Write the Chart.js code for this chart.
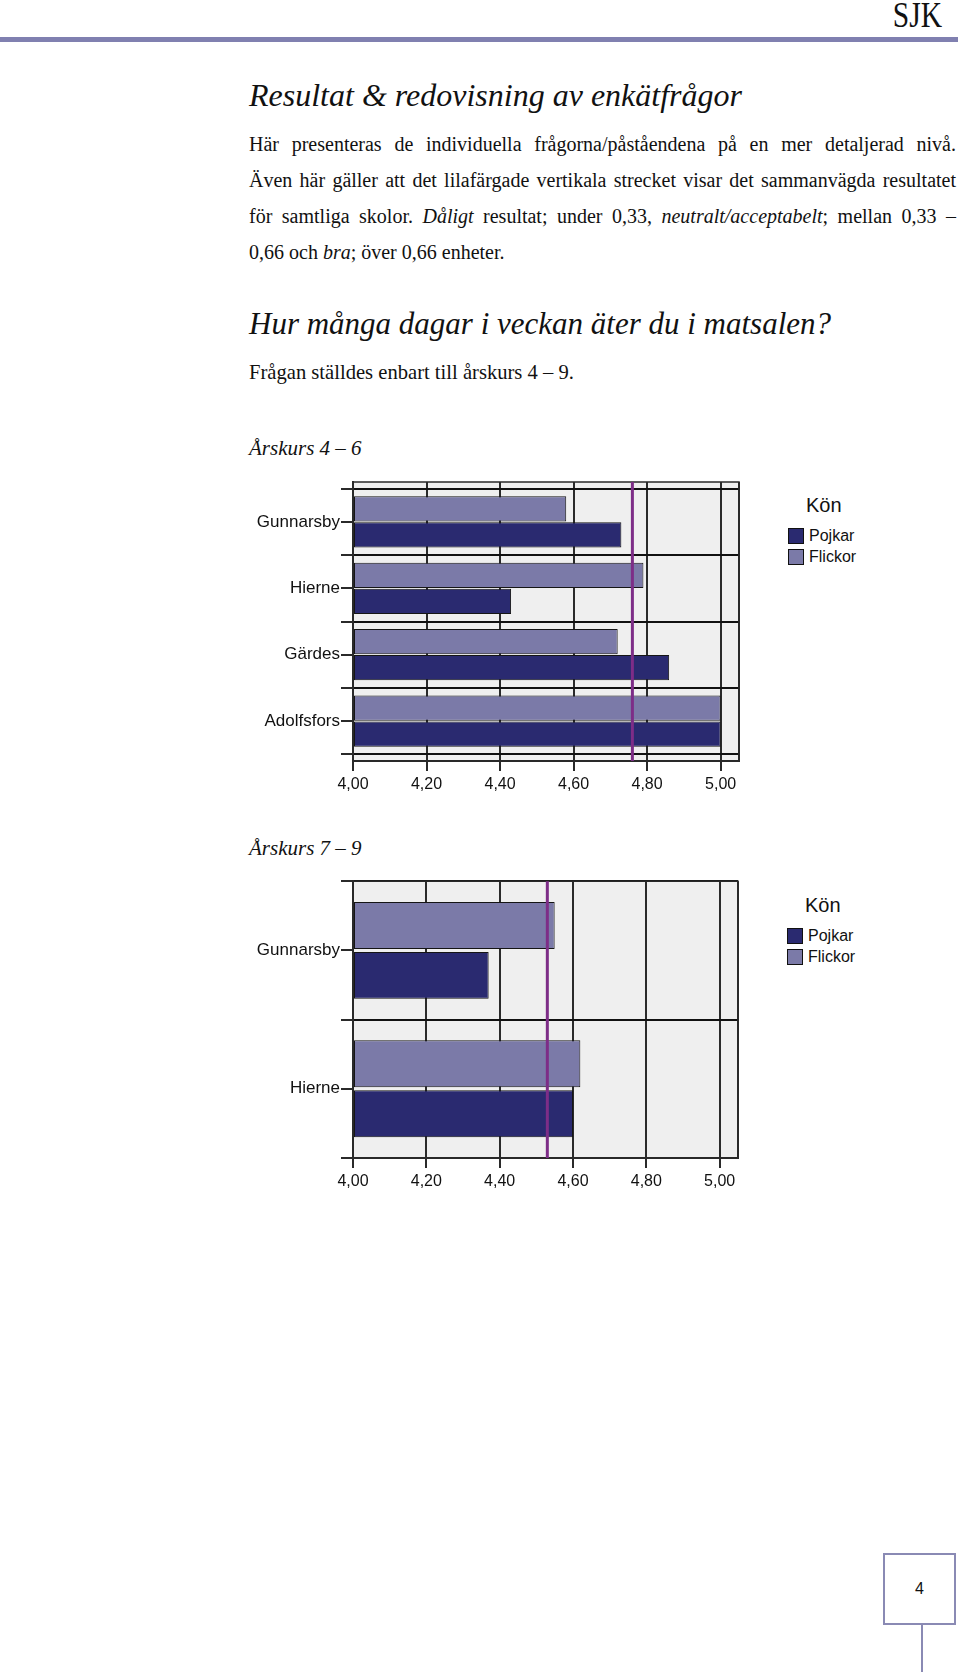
<!DOCTYPE html>
<html lang="sv">
<head>
<meta charset="utf-8">
<title>Hur många dagar i veckan äter du i matsalen?</title>
<script src="https://cdn.jsdelivr.net/npm/chart.js@4.4.1/dist/chart.umd.min.js"></script>
<style>
  html, body { margin: 0; padding: 0; background: #fff; }
  #page { position: relative; width: 960px; height: 1672px; overflow: hidden; color: #111;
          font-family: 'Liberation Serif', 'Times New Roman', serif; }
  .abs { position: absolute; line-height: 1; white-space: nowrap; }
  .sjk { right: 18px; top: -3px; font-size: 36px; transform: scaleX(0.82); transform-origin: right top; }
  .rule { position: absolute; left: 0; top: 37px; width: 958px; height: 5px; background: #8080b0; }
  .h1 { left: 249px; font-size: 32px; font-style: italic; }
  .h2 { left: 249px; font-size: 31px; font-style: italic; }
  .sub { left: 249px; font-size: 21px; font-style: italic; }
  .txt { left: 249px; font-size: 20px; }
  .just { position: absolute; left: 249px; width: 707px; font-size: 20px; line-height: 1;
          text-align: justify; text-align-last: justify; }
  canvas { position: absolute; }
  .legend { position: absolute; font-family: 'Liberation Sans', Arial, sans-serif; color: #111; }
  .legend .title { font-size: 20px; line-height: 20px; padding-left: 18px; margin-bottom: 10px; }
  .legend .row { display: flex; align-items: center; height: 21px; font-size: 16px; }
  .legend .box { width: 14px; height: 14px; border: 1px solid #111; margin-right: 5px; }
  .pagebox { position: absolute; left: 883px; top: 1553px; width: 69px; height: 68px;
             border: 2px solid #8a8ab4; font-family: 'Liberation Sans', Arial, sans-serif;
             font-size: 16px; line-height: 68px; text-align: center; }
  .pageline { position: absolute; left: 921px; top: 1625px; width: 2px; height: 50px; background: #8a8ab4; }
</style>
</head>
<body>
<div id="page">
  <div class="abs sjk">SJK</div>
  <div class="rule"></div>

  <div class="abs h1" style="top:79px">Resultat &amp; redovisning av enkätfrågor</div>

  <div class="just" style="top:134px">Här presenteras de individuella frågorna/påståendena på en mer detaljerad nivå.</div>
  <div class="just" style="top:170px">Även här gäller att det lilafärgade vertikala strecket visar det sammanvägda resultatet</div>
  <div class="just" style="top:206px">för samtliga skolor. <i>Dåligt</i> resultat; under 0,33, <i>neutralt/acceptabelt</i>; mellan 0,33 –</div>
  <div class="abs txt" style="top:242px">0,66 och <i>bra</i>; över 0,66 enheter.</div>

  <div class="abs h2" style="top:308px">Hur många dagar i veckan äter du i matsalen?</div>
  <div class="abs txt" style="top:362px; font-size:20.6px">Frågan ställdes enbart till årskurs 4 – 9.</div>

  <div class="abs sub" style="top:438px">Årskurs 4 – 6</div>
  <canvas id="chart46" width="530" height="330" style="left:230px; top:470px"></canvas>
  <div class="legend" id="legend46" style="left:788px; top:495px"></div>

  <div class="abs sub" style="top:838px">Årskurs 7 – 9</div>
  <canvas id="chart79" width="530" height="330" style="left:230px; top:870px"></canvas>
  <div class="legend" id="legend79" style="left:787px; top:895px"></div>

  <div class="pagebox">4</div>
  <div class="pageline"></div>
</div>

<script>
'use strict';

// **** Data ****

let schools46 = ['Gunnarsby', 'Hierne', 'Gärdes', 'Adolfsfors'];
let pojkar46 = [4.73, 4.43, 4.86, 5.00];
let flickor46 = [4.58, 4.79, 4.72, 5.00];
let average46 = 4.76;

let schools79 = ['Gunnarsby', 'Hierne'];
let pojkar79 = [4.37, 4.60];
let flickor79 = [4.55, 4.62];
let average79 = 4.53;

let xTicks = [4.00, 4.20, 4.40, 4.60, 4.80, 5.00];
let xMin = 4.00;
let xMax = 5.05;

let legendTitle = 'Kön';


// **** Styles ****

let pojkarColor = '#2a2a70';
let flickorColor = '#7b7aa8';
let averageColor = '#7d2d87';
let lineColor = '#2a2a2a';

Chart.defaults.font.family = "'Liberation Sans', Arial, sans-serif";
Chart.defaults.font.size = 16;
Chart.defaults.color = '#111';


// **** Plugin: plot background, frame and average line ****

const plotFrame = {
  id: 'plotFrame',
  beforeDraw(chart){
    let ctx = chart.ctx;
    let a = chart.chartArea;
    ctx.save();
    ctx.fillStyle = '#efefef';
    ctx.fillRect(a.left, a.top, a.width, a.height);
    ctx.restore();
  },
  afterDatasetsDraw(chart, args, opts){
    let ctx = chart.ctx;
    let a = chart.chartArea;
    let px = chart.scales.x.getPixelForValue(opts.average);
    ctx.save();
    ctx.strokeStyle = lineColor;
    ctx.lineWidth = 1.5;
    ctx.strokeRect(a.left, a.top, a.width, a.height);
    ctx.strokeStyle = averageColor;
    ctx.lineWidth = 3;
    ctx.beginPath();
    ctx.moveTo(px, a.top);
    ctx.lineTo(px, a.bottom);
    ctx.stroke();
    ctx.restore();
  }
};


// **** Helper Functions ****

function formatTick(value){
  return value.toFixed(2).replace('.', ',');
}

function renderLegend(el, datasets){
  let html = `<div class="title">${legendTitle}</div>`;
  // legend lists Pojkar first, the bars draw Flickor on top
  for (let i = datasets.length - 1; i >= 0; i--){
    html += `<div class="row"><span class="box" style="background:${datasets[i].backgroundColor}"></span>${datasets[i].label}</div>`;
  }
  el.innerHTML = html;
}

function renderChart(canvasId, legendId, schools, pojkar, flickor, average, box){

  // gridlines between schools, labels on the schools
  let yTicks = [];
  for (let i = 0; i <= schools.length; i++){
    yTicks.push(i - 0.5);
    if (i < schools.length){
      yTicks.push(i);
    }
  }

  let datasets = [{
    label: 'Flickor',
    data: flickor.map((v, i) => ({x: v, y: i})),
    backgroundColor: flickorColor,
  },
  {
    label: 'Pojkar',
    data: pojkar.map((v, i) => ({x: v, y: i})),
    backgroundColor: pojkarColor,
  }];

  datasets.forEach(d => {
    d.borderColor = '#151515';
    d.borderWidth = 1;
    d.borderSkipped = false;
    d.base = xMin;
    d.categoryPercentage = box.catPct;
    d.barPercentage = box.barPct;
  });

  let chartObj = {
    type: 'bar',
    data: { datasets: datasets },
    plugins: [plotFrame],
    options: {
      indexAxis: 'y',
      responsive: false,
      animation: false,
      layout: {
        padding: { top: box.top, right: box.right, bottom: 0, left: 0 }
      },
      scales: {
        x: {
          type: 'linear',
          min: xMin,
          max: xMax,
          offset: false,
          afterBuildTicks: axis => { axis.ticks = xTicks.concat([xMax]).map(v => ({value: v})); },
          afterFit: axis => { axis.height = box.xHeight; },
          ticks: {
            padding: 4,
            maxRotation: 0,
            autoSkip: false,
            callback: (value, index) => index < xTicks.length ? formatTick(value) : ''
          },
          grid: {
            offset: false,
            color: lineColor,
            lineWidth: 2,
            tickLength: 10,
            tickColor: ctx => ctx.tick && ctx.tick.value === xMax ? 'rgba(0,0,0,0)' : lineColor
          },
          border: { color: lineColor, width: 2 }
        },
        y: {
          type: 'linear',
          reverse: true,
          offset: false,
          min: -0.5 - box.yPad,
          max: schools.length - 0.5 + box.yPad,
          afterBuildTicks: axis => { axis.ticks = yTicks.map(v => ({value: v})); },
          afterFit: axis => { axis.width = box.yWidth; },
          ticks: {
            padding: 1,
            autoSkip: false,
            font: { size: 17 },
            callback: value => Number.isInteger(value) ? schools[value] : ''
          },
          grid: {
            offset: false,
            color: ctx => ctx.tick && Number.isInteger(ctx.tick.value) ? 'rgba(0,0,0,0)' : '#111',
            lineWidth: 2,
            tickLength: 12,
            tickColor: lineColor
          },
          border: { color: lineColor, width: 2 }
        }
      },
      plugins: {
        legend: { display: false },
        tooltip: { enabled: false },
        plotFrame: { average: average }
      }
    }
  };

  let chart = new Chart(document.getElementById(canvasId), chartObj);
  renderLegend(document.getElementById(legendId), chart.data.datasets);
  return chart;
}


// **** Executable Code ****

renderChart('chart46', 'legend46', schools46, pojkar46, flickor46, average46,
  { top: 12, right: 21, xHeight: 39, yWidth: 123, yPad: 0.1, catPct: 1.566, barPct: 0.97 });

renderChart('chart79', 'legend79', schools79, pojkar79, flickor79, average79,
  { top: 11, right: 22, xHeight: 42, yWidth: 123, yPad: 0, catPct: 1.444, barPct: 0.94 });
</script>
</body>
</html>
